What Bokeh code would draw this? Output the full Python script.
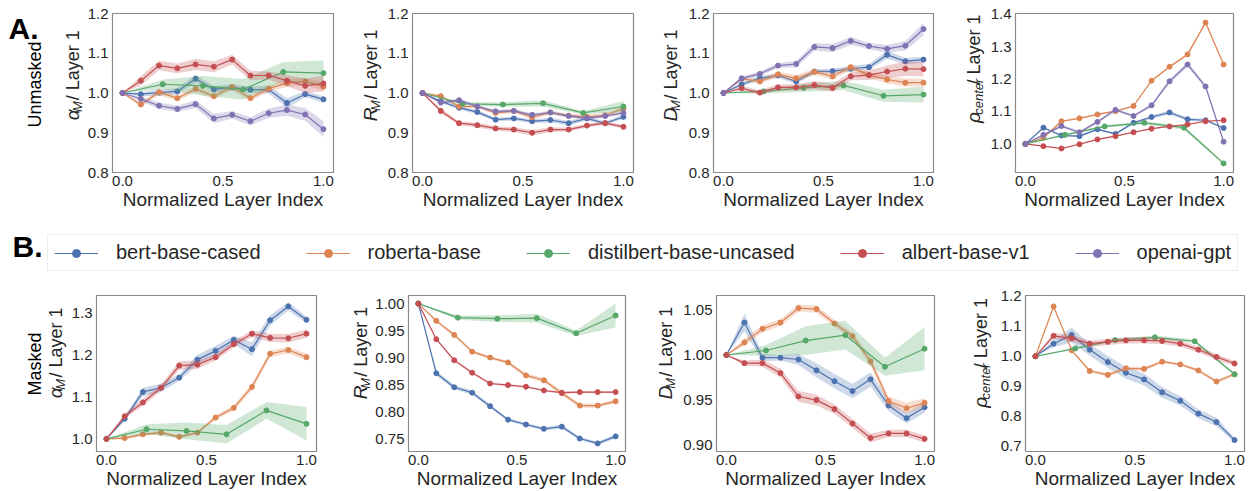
import math
from bokeh.plotting import figure
from bokeh.models import Legend, LegendItem, FixedTicker, PrintfTickFormatter, Range1d
from bokeh.layouts import column, row
from bokeh.embed import file_html
from bokeh.resources import INLINE
from bokeh.core.properties import value

FONT = "Liberation Sans"
TXT = "#262626"

# ---------------- data ----------------
models = ["bert-base-cased", "roberta-base", "distilbert-base-uncased", "albert-base-v1", "openai-gpt"]
colors = ["#4C72B0", "#DD8452", "#55A868", "#C44E52", "#8172B3"]

x12 = [0.0, 0.0909, 0.1818, 0.2727, 0.3636, 0.4545, 0.5455, 0.6364, 0.7273, 0.8182, 0.9091, 1.0]
x6 = [0.0, 0.2, 0.4, 0.6, 0.8, 1.0]
x_ticks = [0.0, 0.5, 1.0]

# A. Unmasked -- alpha_M
alpha_u_bert = [1.0, 0.997, 1.001, 1.004, 1.036, 1.009, 1.014, 1.008, 1.009, 0.975, 0.997, 0.984]
alpha_u_roberta = [1.0, 0.971, 1.002, 0.987, 1.010, 0.992, 1.015, 0.987, 1.011, 1.025, 1.029, 1.016]
alpha_u_distil = [1.0, 1.022, 1.018, 1.009, 1.053, 1.050]
alpha_u_albert = [1.0, 1.031, 1.069, 1.062, 1.072, 1.066, 1.084, 1.044, 1.044, 1.031, 1.018, 1.024]
alpha_u_gpt = [1.0, 0.985, 0.968, 0.960, 0.972, 0.936, 0.945, 0.929, 0.949, 0.957, 0.946, 0.909]
alpha_u_bert_ci = [0, .005, .008, .008, .010, .008, .008, .008, .010, .012, .008, .008]
alpha_u_roberta_ci = [0, .006, .007, .007, .008, .008, .008, .008, .008, .009, .010, .010]
alpha_u_distil_ci = [0, .012, .025, .026, .025, .032]
alpha_u_albert_ci = [0, .012, .012, .012, .014, .014, .012, .012, .010, .014, .018, .020]
alpha_u_gpt_ci = [0, .006, .008, .008, .010, .012, .010, .010, .012, .014, .016, .020]

# A. Unmasked -- R_M
r_u_bert = [1.0, 0.979, 0.963, 0.952, 0.933, 0.936, 0.929, 0.932, 0.924, 0.936, 0.924, 0.940]
r_u_roberta = [1.0, 0.992, 0.966, 0.966, 0.950, 0.955, 0.939, 0.951, 0.943, 0.940, 0.944, 0.961]
r_u_distil = [1.0, 0.973, 0.971, 0.974, 0.950, 0.966]
r_u_albert = [1.0, 0.955, 0.924, 0.919, 0.911, 0.908, 0.900, 0.908, 0.908, 0.918, 0.924, 0.915]
r_u_gpt = [1.0, 0.976, 0.982, 0.966, 0.954, 0.955, 0.945, 0.951, 0.942, 0.937, 0.942, 0.950]
r_u_bert_ci = [0, .004, .005, .005, .005, .005, .005, .006, .006, .005, .005, .005]
r_u_roberta_ci = [0, .004, .004, .004, .005, .005, .005, .005, .005, .005, .005, .005]
r_u_distil_ci = [0, .004, .006, .008, .004, .014]
r_u_albert_ci = [0, .006, .005, .006, .006, .006, .007, .006, .005, .005, .004, .005]
r_u_gpt_ci = [0, .004, .004, .004, .004, .004, .004, .004, .004, .004, .004, .004]

# A. Unmasked -- D_M
d_u_bert = [1.0, 1.022, 1.037, 1.044, 1.029, 1.054, 1.055, 1.061, 1.065, 1.096, 1.080, 1.084]
d_u_roberta = [1.0, 1.036, 1.029, 1.047, 1.037, 1.053, 1.042, 1.065, 1.045, 1.034, 1.026, 1.026]
d_u_distil = [1.0, 1.004, 1.013, 1.019, 0.993, 0.996]
d_u_albert = [1.0, 1.012, 1.001, 1.014, 1.014, 1.020, 1.013, 1.042, 1.045, 1.054, 1.061, 1.060]
d_u_gpt = [1.0, 1.037, 1.048, 1.069, 1.073, 1.116, 1.113, 1.131, 1.118, 1.111, 1.119, 1.161]
d_u_bert_ci = [0, .005, .006, .006, .006, .006, .006, .007, .008, .010, .008, .007]
d_u_roberta_ci = [0, .005, .006, .007, .008, .008, .008, .008, .008, .010, .010, .010]
d_u_distil_ci = [0, .005, .010, .012, .015, .020]
d_u_albert_ci = [0, .006, .006, .008, .008, .010, .010, .010, .012, .015, .018, .018]
d_u_gpt_ci = [0, .005, .006, .006, .008, .010, .010, .010, .008, .010, .012, .016]

# A. Unmasked -- rho_center
rho_u_bert = [1.0, 1.050, 1.026, 1.024, 1.045, 1.031, 1.065, 1.083, 1.097, 1.076, 1.073, 1.049]
rho_u_roberta = [1.0, 1.019, 1.070, 1.079, 1.091, 1.101, 1.117, 1.195, 1.238, 1.276, 1.374, 1.245]
rho_u_distil = [1.0, 1.028, 1.054, 1.065, 1.050, 0.940]
rho_u_albert = [1.0, 0.993, 0.986, 0.999, 1.014, 1.024, 1.036, 1.047, 1.054, 1.060, 1.070, 1.073]
rho_u_gpt = [1.0, 1.028, 1.055, 1.036, 1.068, 1.105, 1.086, 1.119, 1.193, 1.245, 1.177, 1.007]
rho_u_bert_ci = [0, .003, .003, .003, .003, .003, .004, .005, .006, .005, .004, .003]
rho_u_roberta_ci = [0, .003, .003, .003, .003, .003, .003, .003, .004, .005, .004, .003]
rho_u_distil_ci = [0, .003, .004, .005, .006, .003]
rho_u_albert_ci = [0, .002, .002, .002, .002, .002, .002, .002, .002, .002, .002, .002]
rho_u_gpt_ci = [0, .003, .004, .004, .004, .005, .004, .005, .007, .008, .006, .004]

# B. Masked -- alpha_M
alpha_m_bert = [1.0, 1.048, 1.112, 1.122, 1.146, 1.189, 1.210, 1.236, 1.214, 1.283, 1.316, 1.284]
alpha_m_roberta = [1.0, 1.002, 1.011, 1.015, 1.005, 1.015, 1.051, 1.074, 1.124, 1.203, 1.212, 1.195]
alpha_m_distil = [1.0, 1.023, 1.019, 1.011, 1.068, 1.036]
alpha_m_albert = [1.0, 1.054, 1.087, 1.122, 1.175, 1.177, 1.195, 1.226, 1.251, 1.241, 1.240, 1.251]
alpha_m_bert_ci = [0, .006, .010, .010, .008, .012, .012, .010, .016, .012, .010, .008]
alpha_m_roberta_ci = [0, .004, .004, .004, .004, .004, .006, .006, .008, .008, .008, .008]
alpha_m_distil_ci = [0, .012, .020, .022, .020, .040]
alpha_m_albert_ci = [0, .006, .008, .008, .010, .010, .008, .008, .008, .010, .010, .010]

# B. Masked -- R_M
r_m_bert = [1.0, 0.871, 0.845, 0.835, 0.810, 0.785, 0.776, 0.768, 0.772, 0.750, 0.741, 0.754]
r_m_roberta = [1.0, 0.968, 0.942, 0.911, 0.900, 0.891, 0.867, 0.858, 0.834, 0.811, 0.811, 0.819]
r_m_distil = [1.0, 0.974, 0.972, 0.973, 0.945, 0.978]
r_m_albert = [1.0, 0.934, 0.895, 0.872, 0.852, 0.849, 0.846, 0.839, 0.835, 0.836, 0.836, 0.836]
r_m_bert_ci = [0, .004, .004, .004, .003, .003, .003, .003, .004, .003, .003, .004]
r_m_roberta_ci = [0, .003, .003, .003, .003, .003, .004, .004, .004, .004, .004, .004]
r_m_distil_ci = [0, .004, .006, .008, .005, .022]
r_m_albert_ci = [0, .002, .002, .002, .002, .002, .002, .002, .002, .002, .002, .002]

# B. Masked -- D_M
d_m_bert = [1.0, 1.036, 0.997, 0.997, 0.995, 0.983, 0.971, 0.960, 0.973, 0.944, 0.930, 0.942]
d_m_roberta = [1.0, 1.014, 1.029, 1.036, 1.052, 1.051, 1.035, 1.021, 0.993, 0.949, 0.941, 0.947]
d_m_distil = [1.0, 1.005, 1.016, 1.022, 0.987, 1.007]
d_m_albert = [1.0, 0.991, 0.991, 0.980, 0.954, 0.950, 0.940, 0.924, 0.908, 0.913, 0.913, 0.907]
d_m_bert_ci = [0, .010, .004, .003, .006, .008, .008, .008, .008, .006, .006, .006]
d_m_roberta_ci = [0, .004, .004, .004, .004, .004, .004, .004, .005, .005, .006, .005]
d_m_distil_ci = [0, .006, .016, .016, .010, .024]
d_m_albert_ci = [0, .003, .004, .005, .006, .006, .005, .005, .005, .004, .004, .004]

# B. Masked -- rho_center
rho_m_bert = [1.0, 1.042, 1.071, 1.022, 0.981, 0.945, 0.923, 0.880, 0.852, 0.809, 0.781, 0.721]
rho_m_roberta = [1.0, 1.166, 1.020, 0.951, 0.938, 0.960, 0.958, 0.982, 0.973, 0.953, 0.916, 0.940]
rho_m_distil = [1.0, 1.026, 1.054, 1.063, 1.050, 0.940]
rho_m_albert = [1.0, 1.068, 1.060, 1.042, 1.048, 1.053, 1.053, 1.051, 1.042, 1.022, 0.998, 0.976]
rho_m_bert_ci = [0, .012, .025, .020, .020, .020, .020, .018, .016, .015, .014, .008]
rho_m_roberta_ci = [0, .004, .004, .004, .006, .006, .006, .005, .004, .005, .006, .006]
rho_m_distil_ci = [0, .004, .005, .006, .006, .004]
rho_m_albert_ci = [0, .010, .012, .010, .010, .010, .010, .010, .010, .010, .010, .008]

# ---------------- helpers ----------------
CW = {' ': 0.278, '/': 0.278, 'L': 0.556, 'a': 0.556, 'y': 0.5, 'e': 0.556, 'r': 0.333,
      '1': 0.556, 'c': 0.5, 'n': 0.556, 't': 0.278, 'M': 0.833, 'R': 0.722, 'D': 0.722,
      'U': 0.722, 's': 0.5, 'k': 0.5, 'd': 0.556, 'm': 0.833, 'α': 0.60, 'ρ': 0.58}


def tw(s, size):
    return sum(CW.get(ch, 0.556) for ch in s) * size


def label_fig(w, h):
    f = figure(width=w, height=h, x_range=Range1d(0, w), y_range=Range1d(0, h),
               toolbar_location=None, output_backend="svg", min_border=0,
               x_axis_location=None, y_axis_location=None)
    f.xgrid.visible = False
    f.ygrid.visible = False
    f.outline_line_color = None
    f.background_fill_color = "white"
    f.border_fill_color = "white"
    return f


def add_text(f, x, y, text, size, style="normal", angle=0.0, align="left", color=TXT):
    f.text(x=[x], y=[y], text=[text], angle=angle, text_align=align, text_baseline="middle",
           text_font=value(FONT), text_font_size=value(f"{size}px"),
           text_font_style=style, text_color=color)


def add_vtext(f, cx, cy, text, size, color="black"):
    add_text(f, cx, cy - tw(text, size) / 2, text, size, angle=math.pi / 2, color=color)


def add_ylabel(f, sym, sub, cx, cy):
    parts = [(sym, "italic", 19, 0, 0), (sub, "italic", 13, 5, 5), (" / Layer 1", "normal", 18, 0, 0)]
    total = sum(tw(t, s) + g for t, _, s, _, g in parts)
    y = cy - total / 2
    for t, st, s, dx, g in parts:
        add_text(f, cx + dx, y, t, s, style=st, angle=math.pi / 2)
        y += tw(t, s) + g


def make_panel(width, height, left, right, top, bottom, yr, yticks, fmt, series):
    p = figure(width=width, height=height, x_range=Range1d(-0.05, 1.05), y_range=Range1d(*yr),
               toolbar_location=None, output_backend="svg",
               min_border_left=left, min_border_right=right,
               min_border_top=top, min_border_bottom=bottom)
    p.xgrid.visible = False
    p.ygrid.visible = False
    p.outline_line_color = "#8a8a8a"
    p.outline_line_width = 1.2
    p.background_fill_color = "white"
    p.border_fill_color = "white"
    p.xaxis.ticker = FixedTicker(ticks=x_ticks)
    p.xaxis.formatter = PrintfTickFormatter(format="%.1f")
    p.yaxis.ticker = FixedTicker(ticks=yticks)
    p.yaxis.formatter = PrintfTickFormatter(format=fmt)
    for ax in (p.xaxis[0], p.yaxis[0]):
        ax.axis_line_color = None
        ax.major_tick_line_color = None
        ax.minor_tick_line_color = None
        ax.major_tick_out = 0
        ax.major_tick_in = 0
        ax.major_label_text_font = FONT
        ax.major_label_text_font_size = "15px"
        ax.major_label_text_color = TXT
        ax.major_label_standoff = 4
    p.xaxis.major_label_standoff = 3
    p.xaxis.axis_label = "Normalized Layer Index"
    p.xaxis.axis_label_text_font = FONT
    p.xaxis.axis_label_text_font_size = "19px"
    p.xaxis.axis_label_text_font_style = "normal"
    p.xaxis.axis_label_text_color = TXT
    p.xaxis.axis_label_standoff = 0
    for xs, ys, cis, c in series:
        lo = [a - b for a, b in zip(ys, cis)]
        hi = [a + b for a, b in zip(ys, cis)]
        p.varea(x=xs, y1=lo, y2=hi, fill_color=c, fill_alpha=0.28)
        p.line(xs, ys, line_color=c, line_width=1.2)
        p.scatter(xs, ys, size=5, fill_color=c, line_color=c)
    return p


C_BERT, C_ROB, C_DIS, C_ALB, C_GPT = colors

TOP_H = 216
BOT_H = 205
TICKS_1 = [0.8, 0.9, 1.0, 1.1, 1.2]

# ---------------- top row ----------------
L1 = label_fig(84, TOP_H)
add_text(L1, 8, 196, "A.", 30, style="bold", color="black")
add_vtext(L1, 34, 104, "Unmasked", 18)
add_ylabel(L1, "α", "M", 72, 122)
p1 = make_panel(266, TOP_H, 28, 17, 13, 44, (0.8, 1.2), TICKS_1, "%.1f", [
    (x12, alpha_u_bert, alpha_u_bert_ci, C_BERT), (x12, alpha_u_roberta, alpha_u_roberta_ci, C_ROB),
    (x6, alpha_u_distil, alpha_u_distil_ci, C_DIS), (x12, alpha_u_albert, alpha_u_albert_ci, C_ALB),
    (x12, alpha_u_gpt, alpha_u_gpt_ci, C_GPT)])

L2 = label_fig(32, TOP_H)
add_ylabel(L2, "R", "M", 20, 122)
p2 = make_panel(268, TOP_H, 30, 17, 13, 44, (0.8, 1.2), TICKS_1, "%.1f", [
    (x12, r_u_bert, r_u_bert_ci, C_BERT), (x12, r_u_roberta, r_u_roberta_ci, C_ROB),
    (x6, r_u_distil, r_u_distil_ci, C_DIS), (x12, r_u_albert, r_u_albert_ci, C_ALB),
    (x12, r_u_gpt, r_u_gpt_ci, C_GPT)])

L3 = label_fig(33, TOP_H)
add_ylabel(L3, "D", "M", 20, 122)
p3 = make_panel(267, TOP_H, 30, 17, 13, 44, (0.8, 1.2), TICKS_1, "%.1f", [
    (x12, d_u_bert, d_u_bert_ci, C_BERT), (x12, d_u_roberta, d_u_roberta_ci, C_ROB),
    (x6, d_u_distil, d_u_distil_ci, C_DIS), (x12, d_u_albert, d_u_albert_ci, C_ALB),
    (x12, d_u_gpt, d_u_gpt_ci, C_GPT)])

L4 = label_fig(37, TOP_H)
add_ylabel(L4, "ρ", "center", 23, 131)
p4 = make_panel(270, TOP_H, 26, 24, 13, 44, (0.912, 1.402), [1.0, 1.1, 1.2, 1.3, 1.4], "%.1f", [
    (x12, rho_u_bert, rho_u_bert_ci, C_BERT), (x12, rho_u_roberta, rho_u_roberta_ci, C_ROB),
    (x6, rho_u_distil, rho_u_distil_ci, C_DIS), (x12, rho_u_albert, rho_u_albert_ci, C_ALB),
    (x12, rho_u_gpt, rho_u_gpt_ci, C_GPT)])

# ---------------- legend strip ----------------
leg = label_fig(1257, 70)
items = []
for m, c in zip(models, colors):
    lr = leg.line(x=[5000, 5001], y=[5000, 5000], line_color=c, line_width=1.2)
    sr = leg.scatter(x=[5000], y=[5000], size=6, fill_color=c, line_color=c)
    items.append(LegendItem(label=m, renderers=[lr, sr]))
legend = Legend(items=items, orientation="horizontal", location=(47, 15),
                spacing=45, padding=6, glyph_width=44, glyph_height=20, label_standoff=18,
                label_text_font=FONT, label_text_font_size="20px", label_text_color=TXT,
                border_line_color="#dcdcdc", border_line_width=1, background_fill_color="white",
                background_fill_alpha=1.0)
leg.add_layout(legend, "center")
add_text(leg, 12, 40, "B.", 30, style="bold", color="black")

# ---------------- bottom row ----------------
L5 = label_fig(68, BOT_H)
add_vtext(L5, 34, 105, "Masked", 18)
add_ylabel(L5, "α", "M", 55, 121)
p5 = make_panel(277, BOT_H, 28, 29, 9, 38, (0.97, 1.342), [1.0, 1.1, 1.2, 1.3], "%.1f", [
    (x12, alpha_m_bert, alpha_m_bert_ci, C_BERT), (x12, alpha_m_roberta, alpha_m_roberta_ci, C_ROB),
    (x6, alpha_m_distil, alpha_m_distil_ci, C_DIS), (x12, alpha_m_albert, alpha_m_albert_ci, C_ALB)])

L6 = label_fig(27, BOT_H)
add_ylabel(L6, "R", "M", 15, 121)
p6 = make_panel(278, BOT_H, 34, 25, 9, 38, (0.726, 1.015), [0.75, 0.80, 0.85, 0.90, 0.95, 1.00], "%.2f", [
    (x12, r_m_bert, r_m_bert_ci, C_BERT), (x12, r_m_roberta, r_m_roberta_ci, C_ROB),
    (x6, r_m_distil, r_m_distil_ci, C_DIS), (x12, r_m_albert, r_m_albert_ci, C_ALB)])

L7 = label_fig(30, BOT_H)
add_ylabel(L7, "D", "M", 15, 121)
p7 = make_panel(270, BOT_H, 36, 16, 9, 38, (0.893, 1.066), [0.90, 0.95, 1.00, 1.05], "%.2f", [
    (x12, d_m_bert, d_m_bert_ci, C_BERT), (x12, d_m_roberta, d_m_roberta_ci, C_ROB),
    (x6, d_m_distil, d_m_distil_ci, C_DIS), (x12, d_m_albert, d_m_albert_ci, C_ALB)])

L8 = label_fig(42, BOT_H)
add_ylabel(L8, "ρ", "center", 30, 121)
p8 = make_panel(265, BOT_H, 33, 13, 9, 38, (0.683, 1.2024), [0.7, 0.8, 0.9, 1.0, 1.1, 1.2], "%.1f", [
    (x12, rho_m_bert, rho_m_bert_ci, C_BERT), (x12, rho_m_roberta, rho_m_roberta_ci, C_ROB),
    (x6, rho_m_distil, rho_m_distil_ci, C_DIS), (x12, rho_m_albert, rho_m_albert_ci, C_ALB)])

layout = column(row(L1, p1, L2, p2, L3, p3, L4, p4), leg, row(L5, p5, L6, p6, L7, p7, L8, p8))

with open("out.html", "w") as f:
    f.write(file_html(layout, INLINE))
